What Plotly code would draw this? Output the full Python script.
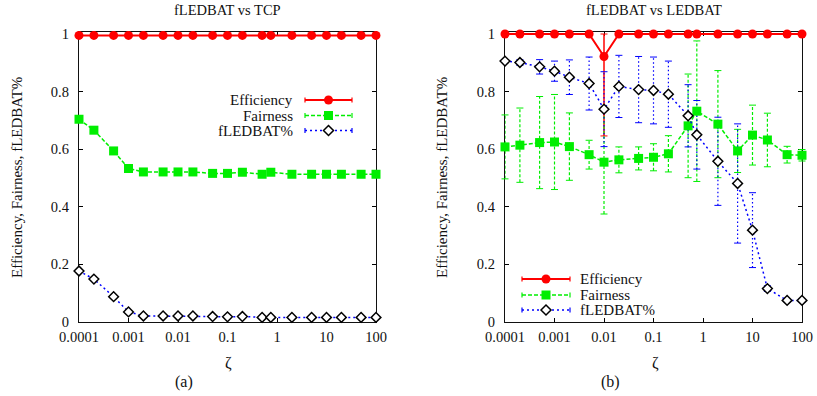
import plotly.graph_objects as go

# ---------------- data ----------------
zeta = [0.0001, 0.0002, 0.0005, 0.001, 0.002, 0.005, 0.01, 0.02, 0.05, 0.1,
        0.2, 0.5, 0.75, 2, 5, 10, 20, 50, 100]

# (a) fLEDBAT vs TCP
eff_a = [0.995] * 19
fair_a = [0.704, 0.666, 0.594, 0.533, 0.521, 0.521, 0.521, 0.521, 0.516, 0.516,
          0.520, 0.513, 0.520, 0.513, 0.513, 0.513, 0.513, 0.513, 0.513]
fled_a = [0.177, 0.149, 0.088, 0.035, 0.021, 0.021, 0.021, 0.021, 0.019, 0.018,
          0.019, 0.016, 0.016, 0.016, 0.016, 0.016, 0.016, 0.016, 0.016]

# (b) fLEDBAT vs LEDBAT
eff_b = [1.0, 1.0, 1.0, 1.0, 1.0, 1.0, 0.922, 1.0, 1.0, 1.0,
         1.0, 1.0, 1.0, 1.0, 1.0, 1.0, 1.0, 1.0, 1.0]
eff_b_up = [0, 0, 0, 0, 0, 0, 0.078, 0, 0, 0, 0, 0, 0, 0, 0, 0, 0, 0, 0]
eff_b_dn = [0, 0, 0, 0, 0, 0, 0.276, 0, 0, 0, 0, 0, 0, 0, 0, 0, 0, 0, 0]
fair_b = [0.608, 0.614, 0.623, 0.625, 0.609, 0.581, 0.555, 0.563, 0.568, 0.572,
          0.584, 0.681, 0.732, 0.687, 0.594, 0.649, 0.632, 0.581, 0.579]
fair_b_err = [0.111, 0.129, 0.160, 0.165, 0.117, 0.050, 0.180, 0.045, 0.040, 0.047,
              0.063, 0.180, 0.244, 0.186, 0.075, 0.104, 0.093, 0.029, 0.020]
fled_b = [0.906, 0.901, 0.886, 0.871, 0.850, 0.828, 0.739, 0.818, 0.807, 0.804,
          0.791, 0.716, 0.650, 0.558, 0.481, 0.319, 0.116, 0.075, 0.075]
fled_b_err = [0.005, 0.010, 0.025, 0.035, 0.060, 0.092, 0.130, 0.108, 0.115, 0.116,
              0.115, 0.108, 0.119, 0.153, 0.207, 0.130, 0.010, 0.005, 0.005]

xtick_vals = [0.0001, 0.001, 0.01, 0.1, 1, 10, 100]
xtick_text = ["0.0001", "0.001", "0.01", "0.1", "1", "10", "100"]
ytick_vals = [0, 0.2, 0.4, 0.6, 0.8, 1]
ytick_text = ["0", "0.2", "0.4", "0.6", "0.8", "1"]

series_names = ["Efficiency", "Fairness", "fLEDBAT%"]
titles = ["fLEDBAT vs TCP", "fLEDBAT vs LEDBAT"]
captions = ["(a)", "(b)"]

# ---------------- styles ----------------
W, H = 817, 396
RED, GREEN, BLUE = "#ff0000", "#00ee00", "#0000ff"
FONT = "Liberation Serif"
EFF_LINE = dict(color=RED, width=2)
FAIR_LINE = dict(color=GREEN, width=1.5, dash="4px,2px")
FLED_LINE = dict(color=BLUE, width=1.5, dash="2px,3px")


def px(x):
    return x / W


def py(y):
    return 1 - y / H


fig = go.Figure()


def err_traces(xa, ya, x, y, up, dn, line, color):
    sx, sy, cx, cy = [], [], [], []
    for xi, yi, u, d in zip(x, y, up, dn):
        sx += [xi, xi, None]
        sy += [yi - d, yi + u, None]
        cx += [xi, xi]
        cy += [yi - d, yi + u]
    fig.add_trace(go.Scatter(x=sx, y=sy, mode="lines", line=line, xaxis=xa, yaxis=ya,
                             showlegend=False, hoverinfo="skip"))
    fig.add_trace(go.Scatter(x=cx, y=cy, mode="markers", xaxis=xa, yaxis=ya,
                             marker=dict(symbol="line-ew", size=5,
                                         line=dict(color=color, width=1)),
                             showlegend=False, hoverinfo="skip", cliponaxis=False))


def series(xa, ya, y, line, marker):
    fig.add_trace(go.Scatter(x=zeta, y=y, mode="lines+markers", line=line, marker=marker,
                             xaxis=xa, yaxis=ya, showlegend=False, cliponaxis=False))


circ = dict(symbol="circle", size=9, color=RED)
sq = dict(symbol="square", size=9, color=GREEN)
dia = dict(symbol="diamond", size=7.5, color="white", line=dict(color="black", width=1.5))

# (a)
series("x", "y", eff_a, EFF_LINE, circ)
series("x", "y", fair_a, FAIR_LINE, sq)
series("x", "y", fled_a, FLED_LINE, dia)

# (b)
err_traces("x2", "y2", zeta, eff_b, eff_b_up, eff_b_dn, dict(color=RED, width=1.5), RED)
err_traces("x2", "y2", zeta, fair_b, fair_b_err, fair_b_err,
           dict(color=GREEN, width=1.2, dash="3px,2px"), GREEN)
err_traces("x2", "y2", zeta, fled_b, fled_b_err, fled_b_err,
           dict(color=BLUE, width=1.2, dash="1.5px,2.5px"), BLUE)
series("x2", "y2", eff_b, EFF_LINE, circ)
series("x2", "y2", fair_b, FAIR_LINE, sq)
series("x2", "y2", fled_b, FLED_LINE, dia)

# ---------------- axes ----------------
xcommon = dict(type="log", range=[-4, 2], tickvals=xtick_vals, ticktext=xtick_text,
               ticks="inside", ticklen=4, tickwidth=1, tickcolor="black",
               mirror="ticks", showline=True, linecolor="#111", linewidth=1.3,
               showgrid=False, zeroline=False, layer="below traces", automargin=False,
               tickfont=dict(family=FONT, size=14.5, color="#111"),
               ticklabelstandoff=1)
ycommon = dict(range=[0, 1.008], tickvals=ytick_vals, ticktext=ytick_text,
               ticks="inside", ticklen=4, tickwidth=1, tickcolor="black",
               mirror="ticks", showline=True, linecolor="#111", linewidth=1.3,
               showgrid=False, zeroline=False, layer="below traces", automargin=False,
               tickfont=dict(family=FONT, size=14.5, color="#111"),
               ticklabelstandoff=6)

dom_y = [py(322), py(31.7)]
fig.update_layout(
    width=W, height=H, margin=dict(l=0, r=0, t=0, b=0, autoexpand=False),
    paper_bgcolor="white", plot_bgcolor="white", showlegend=False,
    font=dict(family=FONT),
    xaxis=dict(domain=[px(79), px(376)], anchor="y", **xcommon),
    yaxis=dict(domain=dom_y, anchor="x", **ycommon),
    xaxis2=dict(domain=[px(505), px(802)], anchor="y2", **xcommon),
    yaxis2=dict(domain=dom_y, anchor="x2", **ycommon),
)

# ---------------- texts ----------------
ann = []
def text(x, y, s, size=15, angle=0, xanchor="center"):
    ann.append(dict(x=px(x), y=py(y), xref="paper", yref="paper", text=s, showarrow=False,
                    xanchor=xanchor, yanchor="middle", textangle=angle,
                    font=dict(family=FONT, size=size, color="#111")))

for cx, t in zip([227.5, 653.5], titles):
    text(cx, 10, t, size=14.5)
for lx in [17, 442]:
    text(lx, 178, "Efficiency, Fairness, fLEDBAT%", size=15, angle=-90)
for cx in [228, 655]:
    text(cx, 363, "ζ", size=16)
for cx, c in zip([184, 610], captions):
    text(cx, 382, c, size=16)

# ---------------- legends (gnuplot-style keys) ----------------
shapes = []
legend_styles = [
    (EFF_LINE, "circle", RED),
    (FAIR_LINE, "square", GREEN),
    (FLED_LINE, "diamond", BLUE),
]

def key(x0, x1, y, style):
    line, sym, col = style
    shapes.append(dict(type="line", xref="paper", yref="paper", x0=px(x0), x1=px(x1),
                       y0=py(y), y1=py(y), line=line))
    for xe in (x0, x1):
        shapes.append(dict(type="line", xref="paper", yref="paper", x0=px(xe), x1=px(xe),
                           y0=py(y - 2.5), y1=py(y + 2.5), line=dict(color=col, width=1.2)))
    xm = (x0 + x1) / 2
    if sym == "circle":
        r = 4.5
        shapes.append(dict(type="circle", xref="paper", yref="paper", x0=px(xm - r), x1=px(xm + r),
                           y0=py(y + r), y1=py(y - r), fillcolor=RED, line=dict(width=0)))
    elif sym == "square":
        r = 4.5
        shapes.append(dict(type="rect", xref="paper", yref="paper", x0=px(xm - r), x1=px(xm + r),
                           y0=py(y + r), y1=py(y - r), fillcolor=GREEN, line=dict(width=0)))
    else:
        r = 5
        path = "M {} {} L {} {} L {} {} L {} {} Z".format(
            px(xm - r), py(y), px(xm), py(y - r), px(xm + r), py(y), px(xm), py(y + r))
        shapes.append(dict(type="path", xref="paper", yref="paper", path=path,
                           fillcolor="white", line=dict(color="black", width=1.5)))

for i, (yy, name) in enumerate(zip([100, 115.5, 130.5], series_names)):
    key(305, 352, yy, legend_styles[i])
    text(295, yy, name, size=15, xanchor="right")

for i, (yy, name) in enumerate(zip([279, 295, 310], series_names)):
    key(522, 570, yy, legend_styles[i])
    text(578, yy, name, size=15, xanchor="left")

fig.update_layout(annotations=ann, shapes=shapes)
fig.write_html("out.html", config={"displayModeBar": False},
               post_script="document.body.style.margin='0';document.body.style.padding='0';")
